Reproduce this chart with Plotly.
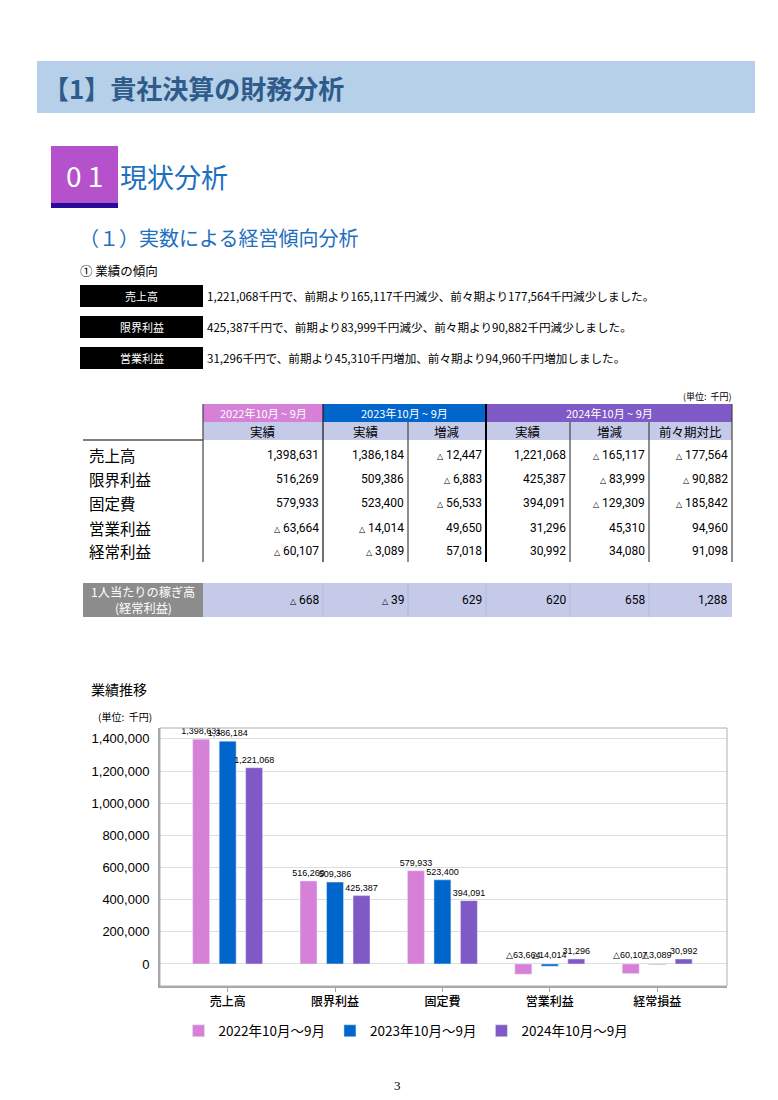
import plotly.graph_objects as go

W, H = 778, 1100


def PX(x):
    return x / W


def PY(y):
    return 1 - y / H


JP = "Noto Sans CJK JP"
SANS = "Liberation Sans"

# ---------------- data ----------------
periods = ["2022年10月～9月", "2023年10月～9月", "2024年10月～9月"]
table_periods = ["2022年10月 ~ 9月", "2023年10月 ~ 9月", "2024年10月 ~ 9月"]
chart_categories = ["売上高", "限界利益", "固定費", "営業利益", "経常損益"]
table_items = ["売上高", "限界利益", "固定費", "営業利益", "経常利益"]
sub_headers = ["実績", "実績", "増減", "実績", "増減", "前々期対比"]

actual_2022 = [1398631, 516269, 579933, -63664, -60107]
actual_2023 = [1386184, 509386, 523400, -14014, -3089]
actual_2024 = [1221068, 425387, 394091, 31296, 30992]
change_2023 = [-12447, -6883, -56533, 49650, 57018]
change_2024 = [-165117, -83999, -129309, 45310, 34080]
vs_two_years_ago = [-177564, -90882, -185842, 94960, 91098]

per_person_label = ["1人当たりの稼ぎ高", "(経常利益)"]
per_person = [-668, -39, 629, 620, 658, 1288]

summary_items = ["売上高", "限界利益", "営業利益"]
summary_texts = [
    "1,221,068千円で、前期より165,117千円減少、前々期より177,564千円減少しました。",
    "425,387千円で、前期より83,999千円減少、前々期より90,882千円減少しました。",
    "31,296千円で、前期より45,310千円増加、前々期より94,960千円増加しました。",
]

y_ticks = [0, 200000, 400000, 600000, 800000, 1000000, 1200000, 1400000]

# ---------------- styles ----------------
C22, C23, C24 = "#D680D8", "#0066CC", "#7F59C6"
LAV = "#C5CAE9"
series_colors = [C22, C23, C24]
series_values = [actual_2022, actual_2023, actual_2024]

shapes = []
ann = []


def rect(x0, y0, x1, y1, fill, line=None, lw=0):
    shapes.append(dict(type="rect", xref="paper", yref="paper",
                       x0=PX(x0), x1=PX(x1), y0=PY(y1), y1=PY(y0),
                       fillcolor=fill, line=dict(width=lw, color=line or fill),
                       layer="below"))


def line(x0, y0, x1, y1, color="#000", lw=1):
    shapes.append(dict(type="line", xref="paper", yref="paper",
                       x0=PX(x0), x1=PX(x1), y0=PY(y0), y1=PY(y1),
                       line=dict(width=lw, color=color), layer="above"))


def text(x, y, s, size, color="#000", anchor="left", family=JP, weight=None):
    f = dict(size=size, color=color, family=family)
    if weight:
        f["weight"] = weight
    ann.append(dict(xref="paper", yref="paper", x=PX(x), y=PY(y), text=s,
                    showarrow=False, xanchor=anchor, yanchor="middle",
                    font=f, borderpad=0))


def fmt_tri(v, small=True):
    if v < 0:
        if small:
            return "<span style='font-size:8px'>△</span> " + f"{abs(v):,}"
        return "△" + f"{abs(v):,}"
    return f"{v:,}"


# ---------------- page header ----------------
rect(37, 61, 755, 113, "#B5D0E8")
text(42, 87, "【1】貴社決算の財務分析", 26, "#2E5B8A", weight="bold")

rect(51, 146, 118, 203, "#B552CB")
rect(51, 203, 118, 208, "#2A0A9A")
text(84.5, 175, "0 1", 28, "#FFFFFF", anchor="center")
text(119, 177, "現状分析", 27, "#1F6FBF")
text(78, 238, "（１）実数による経営傾向分析", 20, "#1F6FBF")
text(79, 270, "① 業績の傾向", 12.5, "#000")

for i, (lab, s) in enumerate(zip(summary_items, summary_texts)):
    yc = 296 + i * 31
    rect(80, yc - 11, 203, yc + 11, "#000000")
    text(141.5, yc, lab, 11, "#FFFFFF", anchor="center")
    text(206, yc, s, 11.6, "#000")

# ---------------- table ----------------
text(733, 396, "(単位:  千円)", 9, "#000", anchor="right")
edges = [203, 323, 408, 486, 570, 649, 732]
# header row 1
rect(203, 404, 323, 422, C22)
rect(323, 404, 486, 422, C23)
rect(486, 404, 732, 422, C24)
for (x0, x1), lab in zip([(203, 323), (323, 486), (486, 732)], table_periods):
    text((x0 + x1) / 2, 413, lab, 11, "#FFFFFF", anchor="center")
# header row 2
rect(203, 422, 732, 440, LAV)
for j, lab in enumerate(sub_headers):
    text((edges[j] + edges[j + 1]) / 2, 431, lab, 12.5, "#000", anchor="center")

line(83, 440, 203, 440, "#000", 1.2)
# vertical lines
line(203, 404, 203, 562, "#444", 1.2)
line(323, 404, 323, 562, "#222", 1.3)
line(408, 422, 408, 562, "#444", 1.2)
line(486, 404, 486, 562, "#000", 2)
line(570, 422, 570, 562, "#444", 1.2)
line(649, 422, 649, 562, "#444", 1.2)
line(732, 404, 732, 562, "#444", 1.2)

cols = [actual_2022, actual_2023, change_2023, actual_2024, change_2024, vs_two_years_ago]
row_y = [455, 479, 503, 528, 551]
for r, item in enumerate(table_items):
    text(88, row_y[r], item, 15.5, "#000")
    for j, col in enumerate(cols):
        text(edges[j + 1] - 3, row_y[r], fmt_tri(col[r]), 12, "#000",
             anchor="right", family="Roboto")

# per-person row
rect(83, 583, 203, 617, "#8C8C8C")
rect(203, 583, 732, 617, LAV)
for xe in edges[1:-1]:
    line(xe, 583, xe, 617, "#B3B8DA", 1)
text(143, 592, per_person_label[0], 12.2, "#FFFFFF", anchor="center")
text(143, 608, per_person_label[1], 12.2, "#FFFFFF", anchor="center")
for j, v in enumerate(per_person):
    text(edges[j + 1] - 3, 600, fmt_tri(v), 12, "#000", anchor="right", family="Roboto")

# ---------------- chart ----------------
text(90, 689, "業績推移", 14, "#000")
text(97, 716, "(単位:  千円)", 10, "#000")

plot_x0, plot_x1 = 160, 727
plot_y0, plot_y1 = 728, 986
x_range = [-0.63, 4.65]
y_range = [-137000, 1468000]
bargap, bargroupgap = 0.26, 0.36

fig = go.Figure()
for name, vals, col in zip(periods, series_values, series_colors):
    fig.add_trace(go.Bar(
        x=chart_categories, y=vals, name=name, marker_color=col,
        text=[f"{v:,}" if v > 0 else "" for v in vals],
        textposition="outside", constraintext="none", cliponaxis=False,
        textfont=dict(family=SANS, size=9, color="#000"),
    ))

cat_px = (plot_x1 - plot_x0) / (x_range[1] - x_range[0])
slot_px = cat_px * (1 - bargap) / 3
for i, vals in enumerate(series_values):
    for cat, v in zip(chart_categories, vals):
        if v < 0:
            ann.append(dict(xref="x", yref="y", x=cat, y=0, text=fmt_tri(v, small=False),
                            showarrow=False, xanchor="center", yanchor="bottom",
                            xshift=(i - 1) * slot_px, yshift=2,
                            font=dict(family=SANS, size=9, color="#000")))

# chart frame (top/right lighter)
shapes.append(dict(type="rect", xref="x domain", yref="y domain", x0=0, x1=1, y0=0, y1=1,
                   line=dict(color="#B0B0B0", width=1), layer="above"))

text(398, 1085, "3", 13, "#000", anchor="center", family="Liberation Serif")

fig.update_layout(
    width=W, height=H, margin=dict(l=0, r=0, t=0, b=0),
    paper_bgcolor="#FFFFFF", plot_bgcolor="#FFFFFF",
    barmode="group", bargap=bargap, bargroupgap=bargroupgap,
    shapes=shapes, annotations=ann,
    showlegend=True,
    legend=dict(orientation="h", x=PX(406), xanchor="center", y=PY(1031), yanchor="middle",
                font=dict(family=JP, size=13.5, color="#000"), itemwidth=30,
                traceorder="normal"),
    xaxis=dict(domain=[PX(plot_x0), PX(plot_x1)], range=x_range, type="category",
               showline=True, linecolor="#A6A6A6", linewidth=2,
               ticks="outside", ticklen=4, tickcolor="#A6A6A6",
               tickfont=dict(family=JP, size=12, color="#000", weight=500), showgrid=False),
    yaxis=dict(domain=[PY(plot_y1), PY(plot_y0)], range=y_range,
               tickvals=y_ticks, tickformat=",", showline=True, linecolor="#A6A6A6",
               linewidth=2, gridcolor="#DDDDDD", gridwidth=1, zeroline=False,
               ticks="", ticklabelstandoff=6,
               tickfont=dict(family=SANS, size=13, color="#000")),
)

fig.write_html("out.html", config={"displayModeBar": False},
               post_script="document.body.style.margin='0';")
